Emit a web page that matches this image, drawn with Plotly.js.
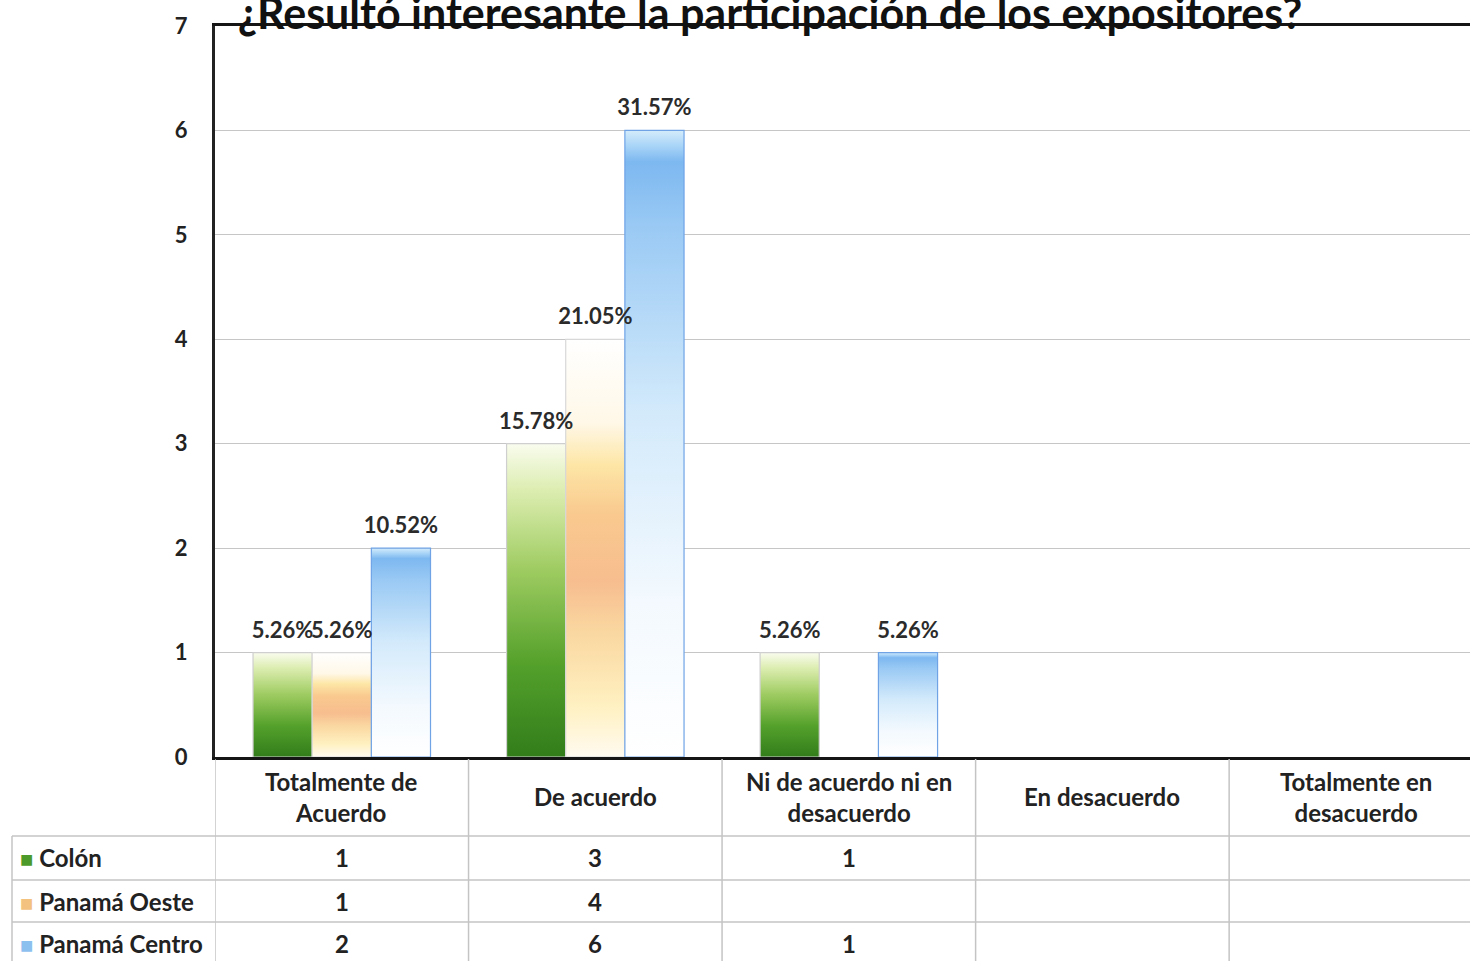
<!DOCTYPE html>
<html>
<head>
<meta charset="utf-8">
<script src="https://cdn.plot.ly/plotly-3.0.1.min.js"></script>
<style>
html,body{margin:0;padding:0;background:#fff;overflow:hidden;}
#chart{width:1470px;height:961px;}
</style>
</head>
<body>
<div id="chart"></div>
<script>
// ---- data ----
const titleText = "¿Resultó interesante la participación de los expositores?";
const categories = ["Totalmente de Acuerdo", "De acuerdo", "Ni de acuerdo ni en desacuerdo", "En desacuerdo", "Totalmente en desacuerdo"];
const headerLabels = ["Totalmente de<br>Acuerdo", "De acuerdo", "Ni de acuerdo ni en<br>desacuerdo", "En desacuerdo", "Totalmente en<br>desacuerdo"];
const seriesNames = ["Colón", "Panamá Oeste", "Panamá Centro"];
const colon = [1, 3, 1, null, null];
const oeste = [1, 4, null, null, null];
const centro = [2, 6, 1, null, null];
const colonPct = ["5.26%", "15.78%", "5.26%", "", ""];
const oestePct = ["5.26%", "21.05%", "", "", ""];
const centroPct = ["10.52%", "31.57%", "5.26%", "", ""];
const yTicks = [0, 1, 2, 3, 4, 5, 6, 7];

const seriesValues = [colon, oeste, centro];
const seriesPct = [colonPct, oestePct, centroPct];
const baseColors = ["#4f9a2c", "#f6b98a", "#7fbaf2"];
const lineColors = ["#cfcfcf", "#d8d8d8", "#6fa3e6"];
const iconColors = ["#4c9a2a", "#f3c27e", "#8cc0ef"];

const FONT = "Lato, 'Open Sans', sans-serif";
const W = 1470, H = 961, T = 26, B = 204, L = 215;
const plotH = H - T - B;
const py = p => (757 - p) / plotH; // pixel y -> paper y

const traces = seriesNames.map((n, i) => ({
  type: "bar",
  name: n,
  x: categories,
  y: seriesValues[i],
  text: seriesPct[i],
  textposition: "outside",
  constraintext: "none",
  cliponaxis: false,
  textfont: {family: FONT, size: 22, color: "#2b2b2b", weight: "bold"},
  marker: {color: baseColors[i], line: {color: lineColors[i], width: 1.2}},
  hoverinfo: "x+y+name"
}));

// table annotations
const TF = {family: FONT, size: 24, color: "#222", weight: "bold"};
const annotations = [];
headerLabels.forEach((h, i) => {
  annotations.push({x: categories[i], xref: "x", y: py(797), yref: "paper", text: h,
    showarrow: false, xanchor: "center", yanchor: "middle", font: TF, align: "center"});
});
const rowY = [857, 901, 943];
seriesNames.forEach((n, r) => {
  annotations.push({x: 18 / W, xref: "paper", y: py(rowY[r]), yref: "paper",
    text: '<span style="color:' + iconColors[r] + ';font-size:22px">■</span> ' + n,
    showarrow: false, xanchor: "left", yanchor: "middle", font: TF});
  seriesValues[r].forEach((v, c) => {
    if (v !== null) annotations.push({x: categories[c], xref: "x", y: py(rowY[r]), yref: "paper",
      text: String(v), showarrow: false, xanchor: "center", yanchor: "middle", font: TF});
  });
});

// table lines
const lc = "#c4c4c4";
const shapes = [];
[836, 880, 922].forEach(p => shapes.push({type: "line", xref: "paper", yref: "paper",
  x0: 12 / W, x1: 1, y0: py(p), y1: py(p), line: {color: lc, width: 1.5}}));
shapes.push({type: "line", xref: "paper", yref: "paper", x0: 12 / W, x1: 12 / W,
  y0: py(836), y1: py(965), line: {color: lc, width: 1.5}});
[-0.5, 0.5, 1.5, 2.5, 3.5].forEach(xv => shapes.push({type: "line", xref: "x", yref: "paper",
  x0: xv, x1: xv, y0: py(759), y1: py(965), line: {color: lc, width: 1.5}}));

const layout = {
  width: W, height: H,
  margin: {l: 0, r: 0, t: T, b: B, pad: 0},
  paper_bgcolor: "#fff", plot_bgcolor: "#fff",
  showlegend: false,
  barmode: "group", bargap: 0.3, bargroupgap: 0,
  title: {text: "<b>" + titleText + "</b>", x: 770 / W, xanchor: "center", xref: "container",
    y: 1 - 14 / H, yanchor: "middle", yref: "container",
    font: {family: FONT, size: 43, color: "#111"}},
  xaxis: {domain: [L / W, 1], range: [-0.5, 4.45], type: "category", showticklabels: false,
    showgrid: false, zeroline: false, showline: true, mirror: true, linecolor: "#151515", linewidth: 3,
    ticks: "", fixedrange: true},
  yaxis: {range: [0, 7], tickvals: yTicks, showgrid: true, gridcolor: "#c6c6c6", gridwidth: 1,
    zeroline: false, showline: true, linecolor: "#222", linewidth: 3, ticks: "",
    ticklabelstandoff: 20,
    tickfont: {family: FONT, size: 22, color: "#222", weight: "bold"}, fixedrange: true},
  annotations: annotations,
  shapes: shapes
};

const gradients = [
  {id: "gGreen", stops: [[0, "#327d1a"], [0.3, "#55a12c"], [0.6, "#9fcc62"], [0.85, "#dcedb0"], [1, "#f9fcee"]]},
  {id: "gOrange", stops: [[0, "#fffaf0"], [0.12, "#fff1c2"], [0.3, "#fad7a0"], [0.42, "#f7bd8e"], [0.58, "#f9c98f"], [0.7, "#fde6a6"], [0.8, "#fff8e8"], [1, "#ffffff"]]},
  {id: "gBlue", stops: [[0, "#ffffff"], [0.25, "#f3f9fe"], [0.55, "#d3eafb"], [0.85, "#99c9f4"], [0.95, "#7db8f0"], [0.975, "#a8d4f7"], [1, "#d4ecfb"]]}
];

Plotly.newPlot("chart", traces, layout, {displayModeBar: false, staticPlot: true}).then(gd => {
  const svg = gd.querySelector(".main-svg");
  const NS = "http://www.w3.org/2000/svg";
  let defs = svg.querySelector("defs");
  if (!defs) { defs = document.createElementNS(NS, "defs"); svg.insertBefore(defs, svg.firstChild); }
  gradients.forEach(g => {
    const lg = document.createElementNS(NS, "linearGradient");
    lg.setAttribute("id", g.id);
    lg.setAttribute("x1", "0"); lg.setAttribute("y1", "1");
    lg.setAttribute("x2", "0"); lg.setAttribute("y2", "0");
    g.stops.forEach(s => {
      const st = document.createElementNS(NS, "stop");
      st.setAttribute("offset", s[0]);
      st.setAttribute("stop-color", s[1]);
      lg.appendChild(st);
    });
    defs.appendChild(lg);
  });
  const barlayer = gd.querySelector(".barlayer");
  const textTop = document.createElementNS(NS, "g");
  textTop.setAttribute("class", "bar-labels-top");
  const tr = gd.querySelectorAll(".barlayer .trace");
  tr.forEach((t, i) => {
    t.querySelectorAll(".point path").forEach(p => { p.style.fill = "url(#" + gradients[i].id + ")"; });
    t.querySelectorAll(".point text").forEach(tx => {
      const old = tx.getAttribute("transform") || "";
      tx.setAttribute("transform", "translate(0,-7) " + old);
      textTop.appendChild(tx);
    });
  });
  barlayer.appendChild(textTop);
});
</script>
</body>
</html>
